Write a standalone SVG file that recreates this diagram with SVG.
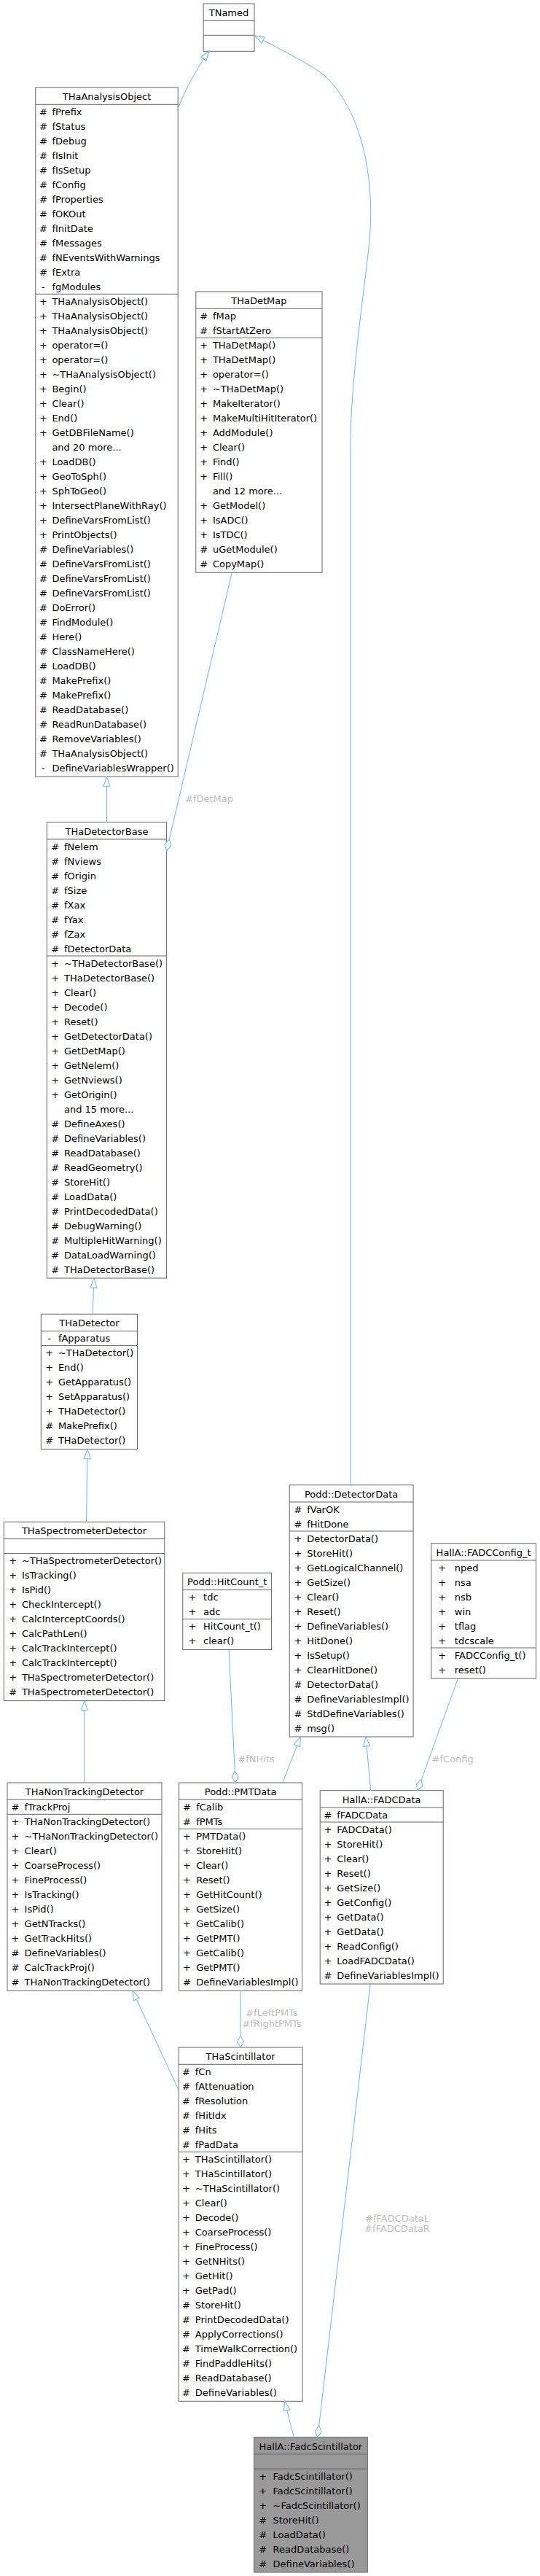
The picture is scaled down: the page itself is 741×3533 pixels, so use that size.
<svg xmlns="http://www.w3.org/2000/svg" width="741" height="3533" viewBox="0 0 741 3533">
<style>
.b{fill:#ffffff;stroke:#666666;stroke-width:1}
.f{fill:#999999;stroke:#666666;stroke-width:1}
.sp{stroke:#666666;stroke-width:1}
text{font-family:"DejaVu Sans","Liberation Sans",sans-serif;font-size:13px;fill:#000000}
.ti{text-anchor:middle}
.sy{text-anchor:middle}
.lb{fill:#bebebe;text-anchor:middle}
.e{fill:none;stroke:#63b8ff;stroke-width:1}
.ei{marker-end:url(#inh)}
.ed{marker-end:url(#dia)}
</style>
<defs>
<marker id="inh" markerUnits="userSpaceOnUse" markerWidth="15" markerHeight="11" viewBox="0 0 15 11" refX="14" refY="5.5" orient="auto"><path d="M1,1 L14,5.5 L1,10 Z" fill="#ffffff" stroke="#63b8ff" stroke-width="1"/></marker>
<marker id="dia" markerUnits="userSpaceOnUse" markerWidth="18" markerHeight="11" viewBox="0 0 18 11" refX="17" refY="5.5" orient="auto"><path d="M1,5.5 L9,1 L17,5.5 L9,10 Z" fill="#ffffff" stroke="#63b8ff" stroke-width="1"/></marker>
</defs>
<rect width="741" height="3533" fill="#ffffff"/>

<g id="node-TNamed">
<rect class="b" x="279.1" y="5" width="69.9" height="65.3"/>
<line class="sp" x1="279.1" y1="28.3" x2="349" y2="28.3"/>
<line class="sp" x1="279.1" y1="48.3" x2="349" y2="48.3"/>
<text class="ti" x="314" y="22">TNamed</text>
</g>

<g id="node-THaAnalysisObject">
<rect class="b" x="48.8" y="120" width="195.4" height="945.3"/>
<line class="sp" x1="48.8" y1="143.3" x2="244.2" y2="143.3"/>
<line class="sp" x1="48.8" y1="403.3" x2="244.2" y2="403.3"/>
<text class="ti" x="146.5" y="137">THaAnalysisObject</text>
<text class="sy" x="59.4" y="157.8">#</text><text x="71.4" y="157.8">fPrefix</text>
<text class="sy" x="59.4" y="177.8">#</text><text x="71.4" y="177.8">fStatus</text>
<text class="sy" x="59.4" y="197.8">#</text><text x="71.4" y="197.8">fDebug</text>
<text class="sy" x="59.4" y="217.8">#</text><text x="71.4" y="217.8">fIsInit</text>
<text class="sy" x="59.4" y="237.8">#</text><text x="71.4" y="237.8">fIsSetup</text>
<text class="sy" x="59.4" y="257.8">#</text><text x="71.4" y="257.8">fConfig</text>
<text class="sy" x="59.4" y="277.8">#</text><text x="71.4" y="277.8">fProperties</text>
<text class="sy" x="59.4" y="297.8">#</text><text x="71.4" y="297.8">fOKOut</text>
<text class="sy" x="59.4" y="317.8">#</text><text x="71.4" y="317.8">fInitDate</text>
<text class="sy" x="59.4" y="337.8">#</text><text x="71.4" y="337.8">fMessages</text>
<text class="sy" x="59.4" y="357.8">#</text><text x="71.4" y="357.8">fNEventsWithWarnings</text>
<text class="sy" x="59.4" y="377.8">#</text><text x="71.4" y="377.8">fExtra</text>
<text class="sy" x="59.4" y="397.8">-</text><text x="71.4" y="397.8">fgModules</text>
<text class="sy" x="59.4" y="417.8">+</text><text x="71.4" y="417.8">THaAnalysisObject()</text>
<text class="sy" x="59.4" y="437.8">+</text><text x="71.4" y="437.8">THaAnalysisObject()</text>
<text class="sy" x="59.4" y="457.8">+</text><text x="71.4" y="457.8">THaAnalysisObject()</text>
<text class="sy" x="59.4" y="477.8">+</text><text x="71.4" y="477.8">operator=()</text>
<text class="sy" x="59.4" y="497.8">+</text><text x="71.4" y="497.8">operator=()</text>
<text class="sy" x="59.4" y="517.8">+</text><text x="71.4" y="517.8">~THaAnalysisObject()</text>
<text class="sy" x="59.4" y="537.8">+</text><text x="71.4" y="537.8">Begin()</text>
<text class="sy" x="59.4" y="557.8">+</text><text x="71.4" y="557.8">Clear()</text>
<text class="sy" x="59.4" y="577.8">+</text><text x="71.4" y="577.8">End()</text>
<text class="sy" x="59.4" y="597.8">+</text><text x="71.4" y="597.8">GetDBFileName()</text>
<text x="71.4" y="617.8">and 20 more...</text>
<text class="sy" x="59.4" y="637.8">+</text><text x="71.4" y="637.8">LoadDB()</text>
<text class="sy" x="59.4" y="657.8">+</text><text x="71.4" y="657.8">GeoToSph()</text>
<text class="sy" x="59.4" y="677.8">+</text><text x="71.4" y="677.8">SphToGeo()</text>
<text class="sy" x="59.4" y="697.8">+</text><text x="71.4" y="697.8">IntersectPlaneWithRay()</text>
<text class="sy" x="59.4" y="717.8">+</text><text x="71.4" y="717.8">DefineVarsFromList()</text>
<text class="sy" x="59.4" y="737.8">+</text><text x="71.4" y="737.8">PrintObjects()</text>
<text class="sy" x="59.4" y="757.8">#</text><text x="71.4" y="757.8">DefineVariables()</text>
<text class="sy" x="59.4" y="777.8">#</text><text x="71.4" y="777.8">DefineVarsFromList()</text>
<text class="sy" x="59.4" y="797.8">#</text><text x="71.4" y="797.8">DefineVarsFromList()</text>
<text class="sy" x="59.4" y="817.8">#</text><text x="71.4" y="817.8">DefineVarsFromList()</text>
<text class="sy" x="59.4" y="837.8">#</text><text x="71.4" y="837.8">DoError()</text>
<text class="sy" x="59.4" y="857.8">#</text><text x="71.4" y="857.8">FindModule()</text>
<text class="sy" x="59.4" y="877.8">#</text><text x="71.4" y="877.8">Here()</text>
<text class="sy" x="59.4" y="897.8">#</text><text x="71.4" y="897.8">ClassNameHere()</text>
<text class="sy" x="59.4" y="917.8">#</text><text x="71.4" y="917.8">LoadDB()</text>
<text class="sy" x="59.4" y="937.8">#</text><text x="71.4" y="937.8">MakePrefix()</text>
<text class="sy" x="59.4" y="957.8">#</text><text x="71.4" y="957.8">MakePrefix()</text>
<text class="sy" x="59.4" y="977.8">#</text><text x="71.4" y="977.8">ReadDatabase()</text>
<text class="sy" x="59.4" y="997.8">#</text><text x="71.4" y="997.8">ReadRunDatabase()</text>
<text class="sy" x="59.4" y="1017.8">#</text><text x="71.4" y="1017.8">RemoveVariables()</text>
<text class="sy" x="59.4" y="1037.8">#</text><text x="71.4" y="1037.8">THaAnalysisObject()</text>
<text class="sy" x="59.4" y="1057.8">-</text><text x="71.4" y="1057.8">DefineVariablesWrapper()</text>
</g>

<g id="node-THaDetMap">
<rect class="b" x="268.8" y="400" width="173.2" height="385.3"/>
<line class="sp" x1="268.8" y1="423.3" x2="442" y2="423.3"/>
<line class="sp" x1="268.8" y1="463.3" x2="442" y2="463.3"/>
<text class="ti" x="355.4" y="417">THaDetMap</text>
<text class="sy" x="279.6" y="437.8">#</text><text x="291.9" y="437.8">fMap</text>
<text class="sy" x="279.6" y="457.8">#</text><text x="291.9" y="457.8">fStartAtZero</text>
<text class="sy" x="279.6" y="477.8">+</text><text x="291.9" y="477.8">THaDetMap()</text>
<text class="sy" x="279.6" y="497.8">+</text><text x="291.9" y="497.8">THaDetMap()</text>
<text class="sy" x="279.6" y="517.8">+</text><text x="291.9" y="517.8">operator=()</text>
<text class="sy" x="279.6" y="537.8">+</text><text x="291.9" y="537.8">~THaDetMap()</text>
<text class="sy" x="279.6" y="557.8">+</text><text x="291.9" y="557.8">MakeIterator()</text>
<text class="sy" x="279.6" y="577.8">+</text><text x="291.9" y="577.8">MakeMultiHitIterator()</text>
<text class="sy" x="279.6" y="597.8">+</text><text x="291.9" y="597.8">AddModule()</text>
<text class="sy" x="279.6" y="617.8">+</text><text x="291.9" y="617.8">Clear()</text>
<text class="sy" x="279.6" y="637.8">+</text><text x="291.9" y="637.8">Find()</text>
<text class="sy" x="279.6" y="657.8">+</text><text x="291.9" y="657.8">Fill()</text>
<text x="291.9" y="677.8">and 12 more...</text>
<text class="sy" x="279.6" y="697.8">+</text><text x="291.9" y="697.8">GetModel()</text>
<text class="sy" x="279.6" y="717.8">+</text><text x="291.9" y="717.8">IsADC()</text>
<text class="sy" x="279.6" y="737.8">+</text><text x="291.9" y="737.8">IsTDC()</text>
<text class="sy" x="279.6" y="757.8">#</text><text x="291.9" y="757.8">uGetModule()</text>
<text class="sy" x="279.6" y="777.8">#</text><text x="291.9" y="777.8">CopyMap()</text>
</g>

<g id="node-THaDetectorBase">
<rect class="b" x="64.3" y="1127.7" width="164.3" height="625.3"/>
<line class="sp" x1="64.3" y1="1151" x2="228.6" y2="1151"/>
<line class="sp" x1="64.3" y1="1311" x2="228.6" y2="1311"/>
<text class="ti" x="146.5" y="1144.7">THaDetectorBase</text>
<text class="sy" x="75.7" y="1165.5">#</text><text x="88" y="1165.5">fNelem</text>
<text class="sy" x="75.7" y="1185.5">#</text><text x="88" y="1185.5">fNviews</text>
<text class="sy" x="75.7" y="1205.5">#</text><text x="88" y="1205.5">fOrigin</text>
<text class="sy" x="75.7" y="1225.5">#</text><text x="88" y="1225.5">fSize</text>
<text class="sy" x="75.7" y="1245.5">#</text><text x="88" y="1245.5">fXax</text>
<text class="sy" x="75.7" y="1265.5">#</text><text x="88" y="1265.5">fYax</text>
<text class="sy" x="75.7" y="1285.5">#</text><text x="88" y="1285.5">fZax</text>
<text class="sy" x="75.7" y="1305.5">#</text><text x="88" y="1305.5">fDetectorData</text>
<text class="sy" x="75.7" y="1325.5">+</text><text x="88" y="1325.5">~THaDetectorBase()</text>
<text class="sy" x="75.7" y="1345.5">+</text><text x="88" y="1345.5">THaDetectorBase()</text>
<text class="sy" x="75.7" y="1365.5">+</text><text x="88" y="1365.5">Clear()</text>
<text class="sy" x="75.7" y="1385.5">+</text><text x="88" y="1385.5">Decode()</text>
<text class="sy" x="75.7" y="1405.5">+</text><text x="88" y="1405.5">Reset()</text>
<text class="sy" x="75.7" y="1425.5">+</text><text x="88" y="1425.5">GetDetectorData()</text>
<text class="sy" x="75.7" y="1445.5">+</text><text x="88" y="1445.5">GetDetMap()</text>
<text class="sy" x="75.7" y="1465.5">+</text><text x="88" y="1465.5">GetNelem()</text>
<text class="sy" x="75.7" y="1485.5">+</text><text x="88" y="1485.5">GetNviews()</text>
<text class="sy" x="75.7" y="1505.5">+</text><text x="88" y="1505.5">GetOrigin()</text>
<text x="88" y="1525.5">and 15 more...</text>
<text class="sy" x="75.7" y="1545.5">#</text><text x="88" y="1545.5">DefineAxes()</text>
<text class="sy" x="75.7" y="1565.5">#</text><text x="88" y="1565.5">DefineVariables()</text>
<text class="sy" x="75.7" y="1585.5">#</text><text x="88" y="1585.5">ReadDatabase()</text>
<text class="sy" x="75.7" y="1605.5">#</text><text x="88" y="1605.5">ReadGeometry()</text>
<text class="sy" x="75.7" y="1625.5">#</text><text x="88" y="1625.5">StoreHit()</text>
<text class="sy" x="75.7" y="1645.5">#</text><text x="88" y="1645.5">LoadData()</text>
<text class="sy" x="75.7" y="1665.5">#</text><text x="88" y="1665.5">PrintDecodedData()</text>
<text class="sy" x="75.7" y="1685.5">#</text><text x="88" y="1685.5">DebugWarning()</text>
<text class="sy" x="75.7" y="1705.5">#</text><text x="88" y="1705.5">MultipleHitWarning()</text>
<text class="sy" x="75.7" y="1725.5">#</text><text x="88" y="1725.5">DataLoadWarning()</text>
<text class="sy" x="75.7" y="1745.5">#</text><text x="88" y="1745.5">THaDetectorBase()</text>
</g>

<g id="node-THaDetector">
<rect class="b" x="56.3" y="1802.3" width="132.2" height="185.3"/>
<line class="sp" x1="56.3" y1="1825.6" x2="188.5" y2="1825.6"/>
<line class="sp" x1="56.3" y1="1845.6" x2="188.5" y2="1845.6"/>
<text class="ti" x="122.4" y="1819.3">THaDetector</text>
<text class="sy" x="67.6" y="1840.1">-</text><text x="79.9" y="1840.1">fApparatus</text>
<text class="sy" x="67.6" y="1860.1">+</text><text x="79.9" y="1860.1">~THaDetector()</text>
<text class="sy" x="67.6" y="1880.1">+</text><text x="79.9" y="1880.1">End()</text>
<text class="sy" x="67.6" y="1900.1">+</text><text x="79.9" y="1900.1">GetApparatus()</text>
<text class="sy" x="67.6" y="1920.1">+</text><text x="79.9" y="1920.1">SetApparatus()</text>
<text class="sy" x="67.6" y="1940.1">+</text><text x="79.9" y="1940.1">THaDetector()</text>
<text class="sy" x="67.6" y="1960.1">#</text><text x="79.9" y="1960.1">MakePrefix()</text>
<text class="sy" x="67.6" y="1980.1">#</text><text x="79.9" y="1980.1">THaDetector()</text>
</g>

<g id="node-THaSpectrometerDetector">
<rect class="b" x="5.3" y="2087.3" width="220.5" height="245.3"/>
<line class="sp" x1="5.3" y1="2110.6" x2="225.8" y2="2110.6"/>
<line class="sp" x1="5.3" y1="2130.6" x2="225.8" y2="2130.6"/>
<text class="ti" x="115.5" y="2104.3">THaSpectrometerDetector</text>
<text class="sy" x="17.6" y="2145.1">+</text><text x="29.9" y="2145.1">~THaSpectrometerDetector()</text>
<text class="sy" x="17.6" y="2165.1">+</text><text x="29.9" y="2165.1">IsTracking()</text>
<text class="sy" x="17.6" y="2185.1">+</text><text x="29.9" y="2185.1">IsPid()</text>
<text class="sy" x="17.6" y="2205.1">+</text><text x="29.9" y="2205.1">CheckIntercept()</text>
<text class="sy" x="17.6" y="2225.1">+</text><text x="29.9" y="2225.1">CalcInterceptCoords()</text>
<text class="sy" x="17.6" y="2245.1">+</text><text x="29.9" y="2245.1">CalcPathLen()</text>
<text class="sy" x="17.6" y="2265.1">+</text><text x="29.9" y="2265.1">CalcTrackIntercept()</text>
<text class="sy" x="17.6" y="2285.1">+</text><text x="29.9" y="2285.1">CalcTrackIntercept()</text>
<text class="sy" x="17.6" y="2305.1">+</text><text x="29.9" y="2305.1">THaSpectrometerDetector()</text>
<text class="sy" x="17.6" y="2325.1">#</text><text x="29.9" y="2325.1">THaSpectrometerDetector()</text>
</g>

<g id="node-Podd-HitCount_t">
<rect class="b" x="250.8" y="2157.3" width="121.8" height="105.3"/>
<line class="sp" x1="250.8" y1="2180.6" x2="372.6" y2="2180.6"/>
<line class="sp" x1="250.8" y1="2220.6" x2="372.6" y2="2220.6"/>
<text class="ti" x="311.7" y="2174.3">Podd::HitCount_t</text>
<text class="sy" x="264" y="2195.1">+</text><text x="279.1" y="2195.1">tdc</text>
<text class="sy" x="264" y="2215.1">+</text><text x="279.1" y="2215.1">adc</text>
<text class="sy" x="264" y="2235.1">+</text><text x="279.1" y="2235.1">HitCount_t()</text>
<text class="sy" x="264" y="2255.1">+</text><text x="279.1" y="2255.1">clear()</text>
</g>

<g id="node-Podd-DetectorData">
<rect class="b" x="397.2" y="2036.7" width="169.9" height="345.3"/>
<line class="sp" x1="397.2" y1="2060" x2="567.1" y2="2060"/>
<line class="sp" x1="397.2" y1="2100" x2="567.1" y2="2100"/>
<text class="ti" x="482.1" y="2053.7">Podd::DetectorData</text>
<text class="sy" x="409" y="2074.5">#</text><text x="421.2" y="2074.5">fVarOK</text>
<text class="sy" x="409" y="2094.5">#</text><text x="421.2" y="2094.5">fHitDone</text>
<text class="sy" x="409" y="2114.5">+</text><text x="421.2" y="2114.5">DetectorData()</text>
<text class="sy" x="409" y="2134.5">+</text><text x="421.2" y="2134.5">StoreHit()</text>
<text class="sy" x="409" y="2154.5">+</text><text x="421.2" y="2154.5">GetLogicalChannel()</text>
<text class="sy" x="409" y="2174.5">+</text><text x="421.2" y="2174.5">GetSize()</text>
<text class="sy" x="409" y="2194.5">+</text><text x="421.2" y="2194.5">Clear()</text>
<text class="sy" x="409" y="2214.5">+</text><text x="421.2" y="2214.5">Reset()</text>
<text class="sy" x="409" y="2234.5">+</text><text x="421.2" y="2234.5">DefineVariables()</text>
<text class="sy" x="409" y="2254.5">+</text><text x="421.2" y="2254.5">HitDone()</text>
<text class="sy" x="409" y="2274.5">+</text><text x="421.2" y="2274.5">IsSetup()</text>
<text class="sy" x="409" y="2294.5">+</text><text x="421.2" y="2294.5">ClearHitDone()</text>
<text class="sy" x="409" y="2314.5">#</text><text x="421.2" y="2314.5">DetectorData()</text>
<text class="sy" x="409" y="2334.5">#</text><text x="421.2" y="2334.5">DefineVariablesImpl()</text>
<text class="sy" x="409" y="2354.5">#</text><text x="421.2" y="2354.5">StdDefineVariables()</text>
<text class="sy" x="409" y="2374.5">#</text><text x="421.2" y="2374.5">msg()</text>
</g>

<g id="node-HallA-FADCConfig_t">
<rect class="b" x="591.7" y="2116.7" width="143.9" height="185.3"/>
<line class="sp" x1="591.7" y1="2140" x2="735.6" y2="2140"/>
<line class="sp" x1="591.7" y1="2260" x2="735.6" y2="2260"/>
<text class="ti" x="663.6" y="2133.7">HallA::FADCConfig_t</text>
<text class="sy" x="606.8" y="2154.5">+</text><text x="623.8" y="2154.5">nped</text>
<text class="sy" x="606.8" y="2174.5">+</text><text x="623.8" y="2174.5">nsa</text>
<text class="sy" x="606.8" y="2194.5">+</text><text x="623.8" y="2194.5">nsb</text>
<text class="sy" x="606.8" y="2214.5">+</text><text x="623.8" y="2214.5">win</text>
<text class="sy" x="606.8" y="2234.5">+</text><text x="623.8" y="2234.5">tflag</text>
<text class="sy" x="606.8" y="2254.5">+</text><text x="623.8" y="2254.5">tdcscale</text>
<text class="sy" x="606.8" y="2274.5">+</text><text x="623.8" y="2274.5">FADCConfig_t()</text>
<text class="sy" x="606.8" y="2294.5">+</text><text x="623.8" y="2294.5">reset()</text>
</g>

<g id="node-THaNonTrackingDetector">
<rect class="b" x="10" y="2445" width="212" height="285.3"/>
<line class="sp" x1="10" y1="2468.3" x2="222" y2="2468.3"/>
<line class="sp" x1="10" y1="2488.3" x2="222" y2="2488.3"/>
<text class="ti" x="116" y="2462">THaNonTrackingDetector</text>
<text class="sy" x="20.9" y="2482.8">#</text><text x="33.6" y="2482.8">fTrackProj</text>
<text class="sy" x="20.9" y="2502.8">+</text><text x="33.6" y="2502.8">THaNonTrackingDetector()</text>
<text class="sy" x="20.9" y="2522.8">+</text><text x="33.6" y="2522.8">~THaNonTrackingDetector()</text>
<text class="sy" x="20.9" y="2542.8">+</text><text x="33.6" y="2542.8">Clear()</text>
<text class="sy" x="20.9" y="2562.8">+</text><text x="33.6" y="2562.8">CoarseProcess()</text>
<text class="sy" x="20.9" y="2582.8">+</text><text x="33.6" y="2582.8">FineProcess()</text>
<text class="sy" x="20.9" y="2602.8">+</text><text x="33.6" y="2602.8">IsTracking()</text>
<text class="sy" x="20.9" y="2622.8">+</text><text x="33.6" y="2622.8">IsPid()</text>
<text class="sy" x="20.9" y="2642.8">+</text><text x="33.6" y="2642.8">GetNTracks()</text>
<text class="sy" x="20.9" y="2662.8">+</text><text x="33.6" y="2662.8">GetTrackHits()</text>
<text class="sy" x="20.9" y="2682.8">#</text><text x="33.6" y="2682.8">DefineVariables()</text>
<text class="sy" x="20.9" y="2702.8">#</text><text x="33.6" y="2702.8">CalcTrackProj()</text>
<text class="sy" x="20.9" y="2722.8">#</text><text x="33.6" y="2722.8">THaNonTrackingDetector()</text>
</g>

<g id="node-Podd-PMTData">
<rect class="b" x="245.6" y="2445" width="169" height="285.3"/>
<line class="sp" x1="245.6" y1="2468.3" x2="414.6" y2="2468.3"/>
<line class="sp" x1="245.6" y1="2508.3" x2="414.6" y2="2508.3"/>
<text class="ti" x="330.1" y="2462">Podd::PMTData</text>
<text class="sy" x="256.5" y="2482.8">#</text><text x="269.2" y="2482.8">fCalib</text>
<text class="sy" x="256.5" y="2502.8">#</text><text x="269.2" y="2502.8">fPMTs</text>
<text class="sy" x="256.5" y="2522.8">+</text><text x="269.2" y="2522.8">PMTData()</text>
<text class="sy" x="256.5" y="2542.8">+</text><text x="269.2" y="2542.8">StoreHit()</text>
<text class="sy" x="256.5" y="2562.8">+</text><text x="269.2" y="2562.8">Clear()</text>
<text class="sy" x="256.5" y="2582.8">+</text><text x="269.2" y="2582.8">Reset()</text>
<text class="sy" x="256.5" y="2602.8">+</text><text x="269.2" y="2602.8">GetHitCount()</text>
<text class="sy" x="256.5" y="2622.8">+</text><text x="269.2" y="2622.8">GetSize()</text>
<text class="sy" x="256.5" y="2642.8">+</text><text x="269.2" y="2642.8">GetCalib()</text>
<text class="sy" x="256.5" y="2662.8">+</text><text x="269.2" y="2662.8">GetPMT()</text>
<text class="sy" x="256.5" y="2682.8">+</text><text x="269.2" y="2682.8">GetCalib()</text>
<text class="sy" x="256.5" y="2702.8">+</text><text x="269.2" y="2702.8">GetPMT()</text>
<text class="sy" x="256.5" y="2722.8">#</text><text x="269.2" y="2722.8">DefineVariablesImpl()</text>
</g>

<g id="node-HallA-FADCData">
<rect class="b" x="439.2" y="2455.7" width="169" height="265.3"/>
<line class="sp" x1="439.2" y1="2479" x2="608.2" y2="2479"/>
<line class="sp" x1="439.2" y1="2499" x2="608.2" y2="2499"/>
<text class="ti" x="523.7" y="2472.7">HallA::FADCData</text>
<text class="sy" x="450" y="2493.5">#</text><text x="462.3" y="2493.5">fFADCData</text>
<text class="sy" x="450" y="2513.5">+</text><text x="462.3" y="2513.5">FADCData()</text>
<text class="sy" x="450" y="2533.5">+</text><text x="462.3" y="2533.5">StoreHit()</text>
<text class="sy" x="450" y="2553.5">+</text><text x="462.3" y="2553.5">Clear()</text>
<text class="sy" x="450" y="2573.5">+</text><text x="462.3" y="2573.5">Reset()</text>
<text class="sy" x="450" y="2593.5">+</text><text x="462.3" y="2593.5">GetSize()</text>
<text class="sy" x="450" y="2613.5">+</text><text x="462.3" y="2613.5">GetConfig()</text>
<text class="sy" x="450" y="2633.5">+</text><text x="462.3" y="2633.5">GetData()</text>
<text class="sy" x="450" y="2653.5">+</text><text x="462.3" y="2653.5">GetData()</text>
<text class="sy" x="450" y="2673.5">+</text><text x="462.3" y="2673.5">ReadConfig()</text>
<text class="sy" x="450" y="2693.5">+</text><text x="462.3" y="2693.5">LoadFADCData()</text>
<text class="sy" x="450" y="2713.5">#</text><text x="462.3" y="2713.5">DefineVariablesImpl()</text>
</g>

<g id="node-THaScintillator">
<rect class="b" x="245.1" y="2808" width="170" height="485.3"/>
<line class="sp" x1="245.1" y1="2831.3" x2="415.1" y2="2831.3"/>
<line class="sp" x1="245.1" y1="2951.3" x2="415.1" y2="2951.3"/>
<text class="ti" x="330.1" y="2825">THaScintillator</text>
<text class="sy" x="255.5" y="2845.8">#</text><text x="267.8" y="2845.8">fCn</text>
<text class="sy" x="255.5" y="2865.8">#</text><text x="267.8" y="2865.8">fAttenuation</text>
<text class="sy" x="255.5" y="2885.8">#</text><text x="267.8" y="2885.8">fResolution</text>
<text class="sy" x="255.5" y="2905.8">#</text><text x="267.8" y="2905.8">fHitIdx</text>
<text class="sy" x="255.5" y="2925.8">#</text><text x="267.8" y="2925.8">fHits</text>
<text class="sy" x="255.5" y="2945.8">#</text><text x="267.8" y="2945.8">fPadData</text>
<text class="sy" x="255.5" y="2965.8">+</text><text x="267.8" y="2965.8">THaScintillator()</text>
<text class="sy" x="255.5" y="2985.8">+</text><text x="267.8" y="2985.8">THaScintillator()</text>
<text class="sy" x="255.5" y="3005.8">+</text><text x="267.8" y="3005.8">~THaScintillator()</text>
<text class="sy" x="255.5" y="3025.8">+</text><text x="267.8" y="3025.8">Clear()</text>
<text class="sy" x="255.5" y="3045.8">+</text><text x="267.8" y="3045.8">Decode()</text>
<text class="sy" x="255.5" y="3065.8">+</text><text x="267.8" y="3065.8">CoarseProcess()</text>
<text class="sy" x="255.5" y="3085.8">+</text><text x="267.8" y="3085.8">FineProcess()</text>
<text class="sy" x="255.5" y="3105.8">+</text><text x="267.8" y="3105.8">GetNHits()</text>
<text class="sy" x="255.5" y="3125.8">+</text><text x="267.8" y="3125.8">GetHit()</text>
<text class="sy" x="255.5" y="3145.8">+</text><text x="267.8" y="3145.8">GetPad()</text>
<text class="sy" x="255.5" y="3165.8">#</text><text x="267.8" y="3165.8">StoreHit()</text>
<text class="sy" x="255.5" y="3185.8">#</text><text x="267.8" y="3185.8">PrintDecodedData()</text>
<text class="sy" x="255.5" y="3205.8">#</text><text x="267.8" y="3205.8">ApplyCorrections()</text>
<text class="sy" x="255.5" y="3225.8">#</text><text x="267.8" y="3225.8">TimeWalkCorrection()</text>
<text class="sy" x="255.5" y="3245.8">#</text><text x="267.8" y="3245.8">FindPaddleHits()</text>
<text class="sy" x="255.5" y="3265.8">#</text><text x="267.8" y="3265.8">ReadDatabase()</text>
<text class="sy" x="255.5" y="3285.8">#</text><text x="267.8" y="3285.8">DefineVariables()</text>
</g>

<g id="node-HallA-FadcScintillator">
<rect class="f" x="348.5" y="3342.7" width="155.8" height="185.3"/>
<line class="sp" x1="348.5" y1="3366" x2="504.3" y2="3366"/>
<line class="sp" x1="348.5" y1="3386" x2="504.3" y2="3386"/>
<text class="ti" x="426.4" y="3359.7">HallA::FadcScintillator</text>
<text class="sy" x="360.8" y="3400.5">+</text><text x="374.5" y="3400.5">FadcScintillator()</text>
<text class="sy" x="360.8" y="3420.5">+</text><text x="374.5" y="3420.5">FadcScintillator()</text>
<text class="sy" x="360.8" y="3440.5">+</text><text x="374.5" y="3440.5">~FadcScintillator()</text>
<text class="sy" x="360.8" y="3460.5">#</text><text x="374.5" y="3460.5">StoreHit()</text>
<text class="sy" x="360.8" y="3480.5">#</text><text x="374.5" y="3480.5">LoadData()</text>
<text class="sy" x="360.8" y="3500.5">#</text><text x="374.5" y="3500.5">ReadDatabase()</text>
<text class="sy" x="360.8" y="3520.5">#</text><text x="374.5" y="3520.5">DefineVariables()</text>
</g>

<g id="connectors">
<path class="e ei" d="M245.1,146.7 C252,128 268,96 287.2,70.3"/>
<path class="e ei" d="M480.7,2036.7 L480.7,620 C480.7,520 500,400 507,330 C515,240 495,150 445,103 C420,85 385,68 349.5,49"/>
<path class="e ei" d="M146.5,1127.7 L146.5,1065.3"/>
<path class="e ed" d="M318.3,785.3 L228.6,1166.7"/>
<text class="lb" x="287" y="1100">#fDetMap</text>
<path class="e ei" d="M127.1,1802.3 L129,1753"/>
<path class="e ei" d="M118.6,2087.3 L120,1987.6"/>
<path class="e ei" d="M115.8,2445 L115.8,2332.6"/>
<path class="e ei" d="M387.7,2445 L412.3,2382"/>
<path class="e ei" d="M508.6,2455.7 L502,2382"/>
<path class="e ed" d="M314.1,2262.6 L323,2445"/>
<text class="lb" x="351.6" y="2417">#fNHits</text>
<path class="e ed" d="M628.5,2302 L572.8,2455.7"/>
<text class="lb" x="621.2" y="2417">#fConfig</text>
<path class="e ei" d="M245.1,2866.7 L181.9,2730.3"/>
<path class="e ed" d="M330.1,2730.3 L330.1,2808"/>
<text class="lb" x="373" y="2765">#fLeftPMTs</text>
<text class="lb" x="373" y="2780">#fRightPMTs</text>
<path class="e ei" d="M403.3,3342.7 L390.6,3293.3"/>
<path class="e ed" d="M508.1,2721 L435.9,3342.7"/>
<text class="lb" x="545" y="3047">#fFADCDataL</text>
<text class="lb" x="545" y="3061">#fFADCDataR</text>
</g>
</svg>
